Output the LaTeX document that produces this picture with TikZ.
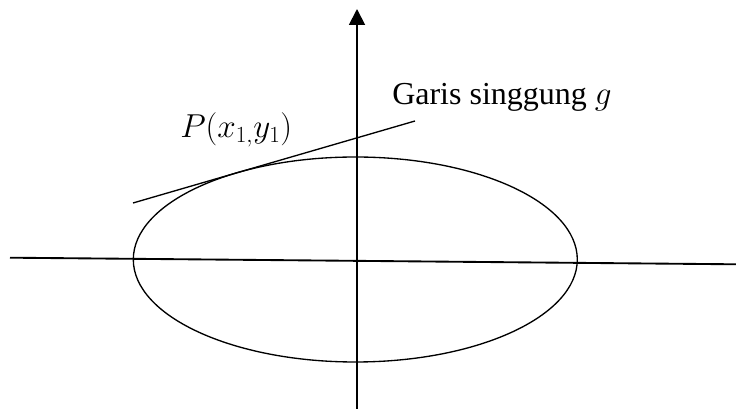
\documentclass[tikz,border=0pt]{standalone}
\usepackage{fontspec}
\setmainfont{Liberation Serif}
\usetikzlibrary{arrows.meta}

\begin{document}
\begin{tikzpicture}[x=0.75pt, y=-0.75pt,
  axis/.style={line width=1.4pt, black},
  curve/.style={line width=1pt, black},
  lbl/.style={inner sep=0pt, anchor=base west, font=\fontsize{24}{28}\selectfont}
]
\useasboundingbox (0,0) rectangle (736,409);
\coordinate (xl) at (10,257.7);
\coordinate (xr) at (736,264.3);
\coordinate (yb) at (357,409);
\coordinate (yt) at (357,9);
\coordinate (o)  at (355.3,259.5);
\coordinate (tl) at (133,203);
\coordinate (tr) at (415,121);
\draw[axis] (xl) -- (xr);
\draw[axis, -{Triangle[length=12pt, width=12pt]}] (yb) -- (yt);
\draw[curve] (o) ellipse (222 and 102.5);
\draw[curve] (tl) -- (tr);
\node[lbl] (garis) at (392,105) {Garis singgung $g$};
\node[lbl] (titik) at (180,138) {$P(x_{1,}y_1)$};
\end{tikzpicture}
\end{document}
